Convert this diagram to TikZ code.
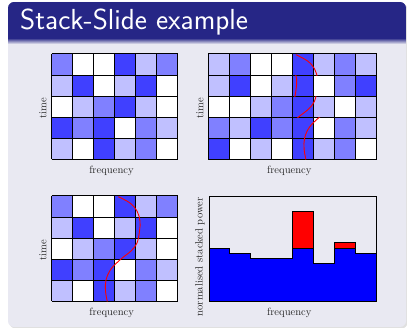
\documentclass[tikz,border=0pt]{standalone}
\usepackage{fontspec}
\definecolor{titlebg}{RGB}{38,38,134}
\definecolor{bodybg}{RGB}{233,233,242}
\definecolor{cellc0}{RGB}{255,255,255}
\definecolor{cellc1}{RGB}{192,192,255}
\definecolor{cellc2}{RGB}{128,128,255}
\definecolor{cellc3}{RGB}{64,64,255}
\tikzset{
  gridline/.style={line width=1pt, draw=black},
  redcurve/.style={draw=red, line width=0.9pt},
  axlabel/.style={font=\fontsize{10.6}{12}\selectfont, inner sep=0pt, text=black!85},
  pics/sinecurve/.style={code={
    \draw[redcurve] plot[smooth, tension=0.6] coordinates {(118.3,196.7) (130,203) (137,211) (140,221) (139.5,231) (137,243) (131,251) (121,259) (111,269) (106,280) (105.5,291) (107.3,301.5)};
  }}
}
\begin{document}
\begin{tikzpicture}[x=1pt,y=-1pt]
\useasboundingbox (0,0) rectangle (407,328);
\fill[white] (0,0) rectangle (407,328);
% block
\fill[black!12, rounded corners=6] (9.5,3.5) rectangle (407.5,328.5);
\fill[bodybg, rounded corners=6] (8,2) rectangle (406,327);
\begin{scope}
  \clip[rounded corners=6] (8,2) rectangle (406,327);
  \fill[titlebg] (8,2) rectangle (406,40);
  \shade[top color=titlebg!70, bottom color=bodybg] (8,40) rectangle (406,44);
\end{scope}
\node[anchor=base west, inner sep=0pt, text=white, font=\fontsize{29}{32}\sffamily\selectfont] (title) at (20,30) {Stack-Slide example};

% ---------- panel 1 ----------
\foreach \row [count=\r from 0] in {{2,0,0,3,1,2},{1,3,0,1,3,0},{0,1,2,3,1,0},{3,2,3,0,2,1},{1,0,3,1,2,0}} {
  \foreach \c [count=\k from 0] in \row {
    \fill[cellc\c] (51.7+\k*21,54+\r*21.1) rectangle ++(21,21.1);
  }
}
\foreach \k in {0,...,6} \draw[gridline] (51.7+\k*21,54) -- ++(0,105.5);
\foreach \r in {0,...,5} \draw[gridline] (51.7,54+\r*21.1) -- ++(126,0);
\node[axlabel, rotate=90] (timeA) at (43,108) {time};
\node[axlabel] (freqA) at (111.5,171) {frequency};

% ---------- panel 2 ----------
\foreach \row [count=\r from 0] in {{1,2,0,0,3,1,2,1},{1,3,0,1,3,0,2,3},{0,0,1,2,3,1,0,1},{2,1,3,2,3,0,2,1},{3,0,1,0,3,1,2,0}} {
  \foreach \c [count=\k from 0] in \row {
    \fill[cellc\c] (208.3+\k*21.05,54+\r*21.1) rectangle ++(21.05,21.1);
  }
}
\foreach \k in {0,...,8} \draw[gridline] (208.3+\k*21.05,54) -- ++(0,105.5);
\foreach \r in {0,...,5} \draw[gridline] (208.3,54+\r*21.1) -- ++(168.4,0);
\foreach \r/\k in {0/1,1/0,2/1,3/2,4/2} {
  \begin{scope}
    \clip (200,54+\r*21.1) rectangle (390,54+\r*21.1+21.1);
    \pic[shift={(156.6+\k*21,-142)}] {sinecurve};
  \end{scope}
}
\node[axlabel, rotate=90] (timeB) at (200,108) {time};
\node[axlabel] (freqB) at (289.3,171) {frequency};

% ---------- panel 3 ----------
\foreach \row [count=\r from 0] in {{2,0,0,3,1,2},{1,3,0,1,3,0},{0,1,2,3,1,0},{3,2,3,0,2,1},{1,0,3,1,2,0}} {
  \foreach \c [count=\k from 0] in \row {
    \fill[cellc\c] (51.7+\k*21,196+\r*21.1) rectangle ++(21,21.1);
  }
}
\foreach \k in {0,...,6} \draw[gridline] (51.7+\k*21,196) -- ++(0,105.5);
\foreach \r in {0,...,5} \draw[gridline] (51.7,196+\r*21.1) -- ++(126,0);
\pic {sinecurve};
\node[axlabel, rotate=90] (timeC) at (43,250) {time};
\node[axlabel] (freqC) at (111.7,313) {frequency};

% ---------- panel 4 ----------
\fill[blue] (209,301) -- (209,248.3) -- (229.96,248.3) -- (229.96,253.7) -- (250.92,253.7) -- (250.92,259) -- (292.84,259) -- (292.84,248.3) -- (313.8,248.3) -- (313.8,264) -- (334.76,264) -- (334.76,248.3) -- (355.72,248.3) -- (355.72,253.7) -- (376.7,253.7) -- (376.7,301) -- cycle;
\draw[line width=1pt] (209,248.3) -- (229.96,248.3) -- (229.96,253.7) -- (250.92,253.7) -- (250.92,259) -- (292.84,259) -- (292.84,248.3) -- (313.8,248.3) -- (313.8,264) -- (334.76,264) -- (334.76,248.3) -- (355.72,248.3) -- (355.72,253.7) -- (376.7,253.7);
\filldraw[fill=red, draw=black, line width=1pt] (292.84,248.3) rectangle (313.8,211.7);
\filldraw[fill=red, draw=black, line width=1pt] (334.76,248.3) rectangle (355.72,242.7);
\draw[line width=0.8pt] (209,196) rectangle (376.7,301);
\node[axlabel, rotate=90] (powerD) at (200,257) {normalised stacked power};
\node[axlabel] (freqD) at (289.3,313) {frequency};
\end{tikzpicture}
\end{document}
